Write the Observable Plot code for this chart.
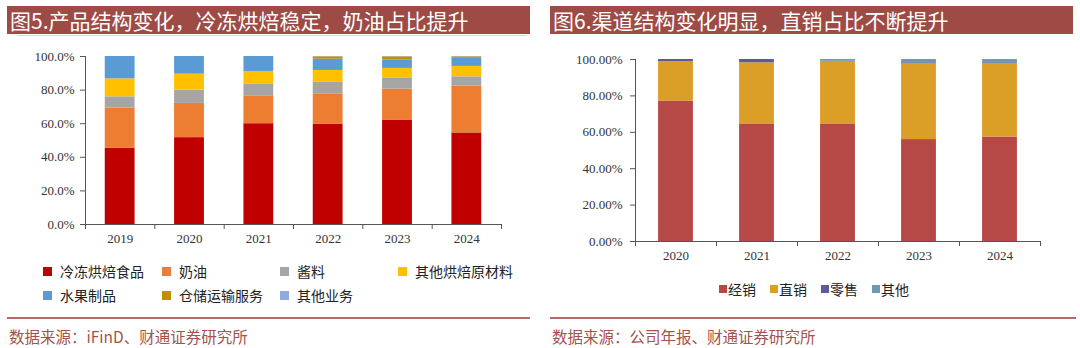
<!DOCTYPE html>
<html><head><meta charset="utf-8">
<script src="https://cdn.jsdelivr.net/npm/d3@7"></script>
<script src="https://cdn.jsdelivr.net/npm/@observablehq/plot@0.6"></script>
<style>
html,body{margin:0;padding:0;}
body{width:1080px;height:348px;background:#fff;position:relative;overflow:hidden;font-family:"Noto Sans CJK SC",sans-serif;}
.panel{position:absolute;top:0;width:540px;height:348px;}
.title{position:absolute;top:6px;height:28px;background:#9E4A45;color:#fff;font-size:21px;line-height:28px;white-space:nowrap;padding-left:3px;box-sizing:border-box;}
.subline{position:absolute;top:35px;height:1px;background:#e2d6d5;}
.chart{position:absolute;top:40px;left:0;}
.legL{position:absolute;left:43px;top:259px;display:grid;grid-template-columns:119px 118px 118px auto;grid-auto-rows:24px;font-size:14px;color:#222;}
.legL .it{display:flex;align-items:center;white-space:nowrap;}
.sw{display:inline-block;width:9px;height:9px;margin-right:8px;}
.legR{position:absolute;left:0;width:548px;top:279px;display:flex;justify-content:center;font-size:14px;color:#222;}
.legR .it{display:flex;align-items:center;margin:0 7px;white-space:nowrap;}
.legR .sw{width:8px;height:8px;margin-right:1px;}
.rline{position:absolute;top:317px;height:1.5px;background:#B86B66;}
.src{position:absolute;top:325px;font-size:15.5px;color:#A5524C;white-space:nowrap;}
</style>
</head><body>
<div class="panel" id="p1" style="left:0">
  <div class="title" style="left:7px;width:523px;">图5.产品结构变化，冷冻烘焙稳定，奶油占比提升</div>
  <div class="subline" style="left:17px;width:510px;"></div>
  <div class="chart" id="c1"></div>
  <div class="legL" id="l1"></div>
  <div class="rline" style="left:7px;width:523px;"></div>
  <div class="src" style="left:9px;">数据来源：iFinD、财通证券研究所</div>
</div>
<div class="panel" id="p2" style="left:540px">
  <div class="title" style="left:10px;width:523px;">图6.渠道结构变化明显，直销占比不断提升</div>
  <div class="chart" id="c2"></div>
  <div class="legR" id="l2"></div>
  <div class="rline" style="left:10px;width:526px;"></div>
  <div class="src" style="left:12px;">数据来源：公司年报、财通证券研究所</div>
</div>
<script>
// ---- Figure 5 data (share of revenue, %) ----
const years1 = ["2019","2020","2021","2022","2023","2024"];
const products = ["冷冻烘焙食品","奶油","酱料","其他烘焙原材料","水果制品","仓储运输服务","其他业务"];
const productColors = ["#C00000","#ED7D31","#A5A5A5","#FFC000","#5B9BD5","#BF9000","#8FAADC"];
const frozenBakery = [45.3,51.7,60.0,59.8,62.2,54.5];
const cream        = [24.0,20.4,16.6,18.0,18.4,27.9];
const sauce        = [6.7,7.9,6.8,6.8,6.7,5.5];
const otherMaterial= [10.7,9.5,7.7,7.1,5.6,6.2];
const fruit        = [13.3,10.5,8.9,6.7,5.1,4.8];
const storage      = [0,0,0,1.4,1.8,0.9];
const otherBiz     = [0,0,0,0.2,0.2,0.2];
const yTicks1 = [0,20,40,60,80,100];

// ---- Figure 6 data (share of revenue, %) ----
const years2 = ["2020","2021","2022","2023","2024"];
const channels = ["经销","直销","零售","其他"];
const channelColors = ["#B64845","#DB9E27","#5B5B9C","#6A9BB0"];
const distributor = [77.2,64.6,64.6,56.0,57.4];
const direct      = [21.6,33.6,34.1,41.8,40.4];
const retail      = [1.2,1.8,0.4,0.4,0.4];
const otherCh     = [0,0,0.9,1.8,1.8];
const yTicks2 = [0,20,40,60,80,100];

function toLong(years, cats, series){
  const out=[];
  cats.forEach((c,j)=>years.forEach((y,i)=>out.push({year:y,cat:c,value:series[j][i]})));
  return out;
}

function stackedChart({years, cats, colors, series, ticks, fmt, width, height, ml, mr, mt, mb, tickPad}){
  const data = toLong(years, cats, series);
  const innerW = width-ml-mr, innerH = height-mt-mb;
  const step = innerW/years.length;
  const axisColor = "#555";
  return Plot.plot({
    width, height, marginLeft:ml, marginRight:mr, marginTop:mt, marginBottom:mb,
    style:{fontFamily:"'Liberation Serif','Times New Roman',serif", fontSize:"13px", color:"#333", background:"transparent"},
    x:{domain:years, paddingInner:0.57, paddingOuter:0.285, round:false, label:null},
    y:{domain:[0,100], label:null},
    color:{domain:cats, range:colors},
    marks:[
      Plot.barY(data, Plot.stackY({order:null}, {x:"year", y:"value", fill:"cat"})),
      Plot.ruleY([0], {stroke:axisColor}),
      Plot.ruleX([years[0]], {x:d=>d, dx:-step/2, stroke:axisColor, insetBottom:-5}),
      Plot.ruleX(years, {x:d=>d, dx:step/2, stroke:axisColor, insetTop:innerH, insetBottom:-5}),
      Plot.axisY({ticks, tickFormat:fmt, tickSize:5, tickPadding:tickPad, stroke:axisColor, fontSize:13, label:null}),
      Plot.axisX({tickSize:0, tickPadding:9, fontSize:13, label:null})
    ]
  });
}

document.getElementById("c1").appendChild(stackedChart({
  years:years1, cats:products, colors:productColors,
  series:[frozenBakery,cream,sauce,otherMaterial,fruit,storage,otherBiz],
  ticks:yTicks1, fmt:d=>d.toFixed(1)+"%",
  width:540, height:210, ml:85, mr:39, mt:16, mb:26, tickPad:6
}));
document.getElementById("c2").appendChild(stackedChart({
  years:years2, cats:channels, colors:channelColors,
  series:[distributor,direct,retail,otherCh],
  ticks:yTicks2, fmt:d=>d.toFixed(2)+"%",
  width:540, height:230, ml:95, mr:40, mt:19, mb:29, tickPad:8
}));

const l1 = document.getElementById("l1");
products.forEach((p,i)=>{
  const d=document.createElement("div"); d.className="it";
  d.innerHTML=`<span class="sw" style="background:${productColors[i]}"></span>${p}`;
  l1.appendChild(d);
});
const l2 = document.getElementById("l2");
channels.forEach((p,i)=>{
  const d=document.createElement("div"); d.className="it";
  d.innerHTML=`<span class="sw" style="background:${channelColors[i]}"></span>${p}`;
  l2.appendChild(d);
});
</script>
</body></html>
